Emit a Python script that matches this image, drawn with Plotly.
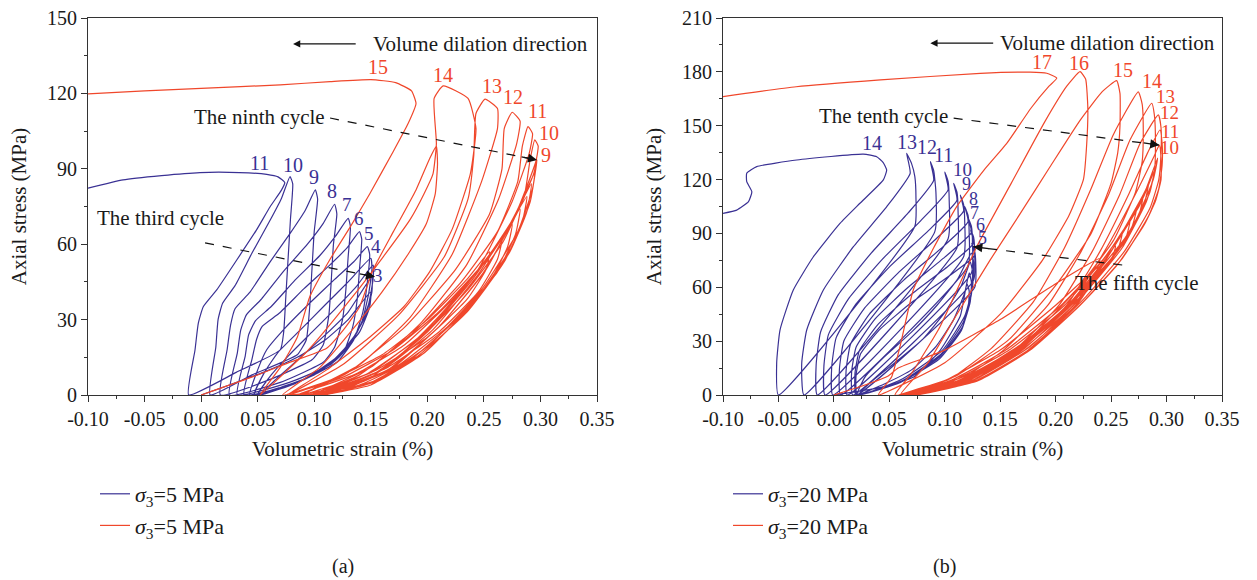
import plotly.graph_objects as go

# ---------------- data (volumetric strain %, axial stress MPa) ----------------
# Panel (a) sigma3 = 5 MPa, blue series: successive load/unload cycles 1..11
blue_a_pts = [
    (0.000, 0), (0.025, 4), (0.055, 9), (0.085, 15), (0.110, 22), (0.130, 30), (0.150, 41),
    (0.149, 35), (0.140, 25), (0.120, 15), (0.090, 6), (0.052, 0),
    (0.068, 7), (0.088, 15), (0.110, 24), (0.130, 33), (0.151, 47),
    (0.151, 41), (0.145, 31), (0.132, 21), (0.110, 11), (0.080, 4), (0.050, 0),
    (0.062, 8), (0.078, 16), (0.098, 25), (0.118, 34), (0.137, 43), (0.152, 51.7),
    (0.152, 46), (0.148, 36), (0.138, 25), (0.118, 14), (0.090, 6), (0.047, 0),
    (0.056, 9), (0.068, 17), (0.088, 26), (0.110, 36), (0.130, 45), (0.150, 54.4),
    (0.151, 50), (0.148, 40), (0.142, 29), (0.128, 18), (0.100, 8), (0.070, 3), (0.043, 0),
    (0.050, 10), (0.058, 18), (0.075, 27), (0.097, 37), (0.118, 46), (0.135, 53), (0.147, 59),
    (0.149, 56), (0.147, 45), (0.143, 33), (0.135, 22), (0.120, 13), (0.085, 5), (0.038, 0),
    (0.045, 14.3), (0.049, 22.1), (0.054, 27.3), (0.069, 32.5), (0.091, 42.3), (0.113, 51.4), (0.129, 58.5), (0.140, 65),
    (0.142, 62), (0.140, 50), (0.138, 38), (0.134, 27), (0.126, 17), (0.114, 12), (0.078, 5), (0.032, 0),
    (0.039, 15.5), (0.042, 23.9), (0.048, 29.5), (0.062, 35.2), (0.083, 45.7), (0.105, 55.5), (0.119, 63.3), (0.130, 70.3),
    (0.132, 67), (0.130, 55), (0.128, 42), (0.125, 30), (0.118, 19), (0.108, 13), (0.070, 5), (0.025, 0),
    (0.032, 16.7), (0.035, 25.8), (0.040, 31.9), (0.053, 38), (0.073, 49.3), (0.094, 60), (0.108, 68.3), (0.118, 75.9),
    (0.120, 72), (0.117, 60), (0.115, 45), (0.113, 32), (0.108, 20), (0.098, 14), (0.060, 6), (0.017, 0),
    (0.023, 18), (0.026, 27.7), (0.030, 34.3), (0.043, 40.8), (0.061, 53), (0.079, 64.5), (0.092, 73.4), (0.101, 81.6),
    (0.103, 78), (0.100, 65), (0.098, 50), (0.096, 35), (0.093, 22), (0.085, 16), (0.045, 8), (0.008, 0),
    (0.013, 19), (0.015, 30), (0.019, 36.5), (0.030, 43.5), (0.045, 56.5), (0.060, 68.7), (0.071, 78.2), (0.0786, 86.9),
    (0.081, 84), (0.079, 70), (0.077, 55), (0.075, 40), (0.073, 25), (0.070, 18), (0.031, 9), (-0.011, 0),
    (-0.0054, 17.9), (-0.0025, 28.5), (0.0019, 35.1), (0.0138, 41.8), (0.0315, 53.7), (0.049, 65.7), (0.061, 74.9),
    (0.071, 81.5), (0.074, 84.5), (0.068, 86.8), (0.058, 87.8), (0.034, 88.5), (-0.001, 88.5), (-0.035, 87.3),
    (-0.069, 85.6), (-0.100, 82.3),
]

# Panel (a) sigma3 = 5 MPa, red series: cycles 1..15
red_a_pts = [
    (0.000, 0), (0.046, 7.3), (0.076, 12.6), (0.111, 18.6), (0.126, 26), (0.140, 35), (0.152, 49.8),
    (0.170, 65), (0.190, 81.6), (0.202, 94), (0.208, 99),
    (0.209, 92), (0.207, 80), (0.199, 68), (0.183, 56), (0.160, 41), (0.132, 25), (0.105, 11), (0.072, 0),
    (0.115, 6), (0.160, 16), (0.200, 30), (0.235, 46), (0.255, 57),
    (0.252, 50), (0.235, 38), (0.200, 23), (0.155, 10), (0.110, 2), (0.078, 0),
    (0.125, 7), (0.170, 18), (0.210, 33), (0.245, 50), (0.266, 62),
    (0.262, 54), (0.245, 41), (0.210, 25), (0.165, 11), (0.120, 3), (0.084, 0),
    (0.135, 8), (0.180, 20), (0.220, 37), (0.255, 55), (0.275, 68),
    (0.271, 59), (0.255, 45), (0.220, 28), (0.175, 12), (0.130, 3), (0.090, 0),
    (0.145, 8), (0.190, 22), (0.228, 40), (0.262, 60), (0.282, 74),
    (0.278, 64), (0.262, 49), (0.228, 31), (0.185, 14), (0.140, 4), (0.096, 0),
    (0.150, 9), (0.195, 24), (0.235, 44), (0.268, 64), (0.288, 79),
    (0.284, 69), (0.268, 53), (0.235, 33), (0.190, 15), (0.145, 4), (0.101, 0),
    (0.155, 9), (0.200, 25), (0.240, 46), (0.273, 68), (0.292, 84),
    (0.288, 73), (0.273, 57), (0.240, 36), (0.195, 16), (0.150, 4), (0.105, 0),
    (0.160, 10), (0.205, 26), (0.245, 48), (0.277, 71), (0.295, 88.5),
    (0.291, 77), (0.276, 60), (0.243, 38), (0.198, 17), (0.152, 5), (0.108, 0),
    (0.165, 10), (0.210, 27), (0.250, 49), (0.280, 73), (0.294, 88), (0.297, 93.5),
    (0.293, 82), (0.280, 65), (0.248, 42), (0.202, 20), (0.155, 6), (0.110, 0),
    (0.167, 10), (0.212, 28), (0.252, 50), (0.281, 75), (0.296, 93), (0.298, 99), (0.295, 101.5),
    (0.291, 94), (0.286, 80), (0.267, 61), (0.236, 42), (0.195, 23), (0.150, 7), (0.106, 0),
    (0.160, 10), (0.205, 28), (0.245, 50), (0.275, 77), (0.290, 96), (0.293, 104), (0.289, 106.8),
    (0.284, 99), (0.280, 85), (0.262, 65), (0.230, 45), (0.188, 25), (0.140, 8), (0.098, 0),
    (0.150, 11), (0.195, 29), (0.235, 52), (0.263, 78), (0.279, 100), (0.282, 109), (0.275, 112.5),
    (0.268, 106), (0.266, 90), (0.255, 72), (0.225, 50), (0.180, 27), (0.130, 9), (0.088, 0),
    (0.140, 12), (0.185, 31), (0.222, 56), (0.248, 85), (0.262, 106), (0.262, 114), (0.251, 117.7),
    (0.243, 112), (0.241, 95), (0.236, 78), (0.215, 55), (0.175, 32), (0.125, 12), (0.076, 0),
    (0.111, 10), (0.149, 23), (0.179, 35), (0.202, 49), (0.222, 66), (0.238, 88), (0.243, 106), (0.236, 118), (0.214, 123),
    (0.206, 118), (0.208, 100), (0.205, 88), (0.197, 80), (0.185, 70), (0.161, 55), (0.132, 38), (0.095, 18), (0.052, 0),
    (0.070, 11), (0.085, 23), (0.096, 39), (0.114, 54), (0.132, 67), (0.149, 80), (0.170, 97), (0.183, 108),
    (0.190, 116), (0.186, 121), (0.172, 124.3), (0.150, 125.5), (0.114, 124.7), (0.070, 123.4),
    (0.000, 122.0), (-0.050, 121.0), (-0.100, 119.8),
]

# Panel (b) sigma3 = 20 MPa, blue series: cycles 1..14
blue_b_pts = [
    (0.000, 0), (0.040, 4), (0.072, 10), (0.096, 25), (0.114, 44), (0.120, 62),
    (0.122, 58), (0.121, 48), (0.115, 36), (0.095, 20), (0.060, 7), (0.022, 0),
    (0.045, 6), (0.070, 14), (0.092, 27), (0.108, 42), (0.118, 57), (0.122, 68),
    (0.124, 63), (0.123, 52), (0.116, 38), (0.095, 21), (0.060, 7), (0.022, 0),
    (0.035, 8), (0.055, 18), (0.080, 31), (0.100, 46), (0.115, 61), (0.123, 74),
    (0.125, 69), (0.124, 56), (0.117, 41), (0.097, 23), (0.062, 8), (0.021, 0),
    (0.028, 10), (0.045, 21), (0.070, 35), (0.093, 50), (0.112, 65), (0.124, 79),
    (0.126, 74), (0.125, 60), (0.118, 44), (0.098, 25), (0.062, 9), (0.021, 0),
    (0.020, 11), (0.024, 22.8), (0.041, 36.3), (0.070, 51.5), (0.103, 65.9), (0.127, 77.7), (0.1243, 84.5),
    (0.127, 80), (0.128, 72), (0.127, 60), (0.020, 0),
    (0.019, 11.9), (0.023, 24.8), (0.040, 39.5), (0.070, 56.1), (0.103, 71.7), (0.126, 84.5), (0.1233, 91.9),
    (0.126, 88), (0.127, 78), (0.126, 64), (0.017, 0),
    (0.016, 12.8), (0.020, 26.6), (0.037, 42.3), (0.067, 60), (0.100, 76.8), (0.124, 90.5), (0.1212, 98.4),
    (0.124, 94), (0.125, 84), (0.124, 68), (0.012, 0),
    (0.011, 13.6), (0.015, 28.3), (0.032, 45.1), (0.063, 64), (0.097, 81.8), (0.121, 96.5), (0.118, 104.9),
    (0.121, 100), (0.122, 90), (0.121, 72), (0.006, 0),
    (0.005, 14.5), (0.009, 30.1), (0.027, 47.9), (0.058, 68), (0.092, 86.9), (0.117, 102.5), (0.114, 111.4),
    (0.117, 106), (0.118, 96), (0.117, 77), (-0.001, 0),
    (-0.002, 15.3), (0.002, 31.8), (0.020, 50.7), (0.051, 71.9), (0.086, 92), (0.111, 108.5), (0.108, 117.9),
    (0.111, 113), (0.112, 102), (0.111, 82), (-0.008, 0),
    (-0.009, 16.1), (-0.005, 33.5), (0.013, 53.4), (0.044, 75.8), (0.078, 96.9), (0.103, 114.3), (0.100, 124.2),
    (0.103, 119), (0.104, 108), (0.103, 87), (-0.015, 0),
    (-0.016, 16.9), (-0.012, 35.1), (0.004, 55.9), (0.034, 79.3), (0.067, 101.4), (0.090, 119.6), (0.087, 130),
    (0.090, 125), (0.092, 113), (0.091, 91), (-0.027, 0),
    (-0.029, 17.7), (-0.0245, 36.2), (-0.0095, 58.5), (0.0176, 82.6), (0.0477, 104.9), (0.0688, 123.5), (0.0656, 134.6),
    (0.070, 129), (0.073, 121.6), (0.074, 110), (0.073, 94), (-0.050, 0),
    (-0.0516, 17.7), (-0.0486, 36.2), (-0.0366, 58.5), (-0.0185, 77), (0.0055, 95.6), (0.0235, 106.8),
    (0.0446, 119.8), (0.0476, 125.3), (0.0445, 129.5), (0.0386, 132.7), (0.0265, 134.2), (-0.0335, 130.9),
    (-0.0696, 127.2), (-0.0786, 123.5), (-0.0786, 118.8), (-0.074, 113.2), (-0.077, 107.7), (-0.0876, 103),
    (-0.100, 101.2),
]

# Panel (b) sigma3 = 20 MPa, red series: cycles 1..17
red_b_pts = [
    (0.000, 0), (0.030, 6), (0.049, 10.6), (0.058, 15), (0.100, 25), (0.150, 42), (0.200, 62), (0.240, 76),
    (0.236, 68), (0.215, 52), (0.180, 33), (0.135, 15), (0.090, 4), (0.058, 0),
    (0.100, 8), (0.150, 25), (0.200, 50), (0.235, 70), (0.254, 83),
    (0.250, 75), (0.228, 58), (0.190, 37), (0.145, 18), (0.100, 5), (0.060, 0),
    (0.105, 8), (0.155, 25), (0.205, 50), (0.240, 73), (0.260, 90),
    (0.256, 81), (0.232, 62), (0.193, 39), (0.147, 19), (0.102, 5), (0.062, 0),
    (0.108, 8), (0.158, 25), (0.208, 50), (0.246, 78), (0.267, 97),
    (0.263, 87), (0.238, 66), (0.197, 41), (0.150, 20), (0.104, 5), (0.064, 0),
    (0.112, 8), (0.162, 25), (0.211, 50), (0.250, 80), (0.273, 104),
    (0.269, 94), (0.243, 70), (0.200, 43), (0.152, 20), (0.106, 5), (0.066, 0),
    (0.116, 8), (0.166, 25), (0.214, 50), (0.250, 80), (0.272, 102), (0.279, 111),
    (0.275, 100), (0.250, 75), (0.205, 46), (0.156, 21), (0.108, 5), (0.068, 0),
    (0.120, 8), (0.169, 25), (0.216, 50), (0.250, 80), (0.276, 106), (0.284, 118),
    (0.280, 107), (0.256, 80), (0.210, 49), (0.160, 22), (0.110, 5), (0.070, 0),
    (0.124, 8), (0.172, 25), (0.218, 50), (0.251, 81), (0.279, 110), (0.289, 125),
    (0.285, 113), (0.262, 85), (0.215, 52), (0.163, 23), (0.112, 5), (0.072, 0),
    (0.128, 8), (0.175, 25), (0.220, 51), (0.251, 81), (0.281, 114), (0.292, 132),
    (0.288, 120), (0.268, 92), (0.220, 56), (0.167, 25), (0.115, 6), (0.074, 0),
    (0.125, 8), (0.170, 25), (0.213, 50), (0.244, 80), (0.272, 112), (0.288, 132), (0.2935, 139.2),
    (0.295, 132), (0.295, 120), (0.290, 108), (0.280, 95), (0.255, 72), (0.222, 50), (0.177, 25), (0.130, 8), (0.076, 0),
    (0.124, 8), (0.168, 25), (0.210, 50), (0.240, 80), (0.266, 112), (0.283, 135), (0.2941, 147.6),
    (0.296, 140), (0.296, 128), (0.293, 115), (0.284, 100), (0.260, 76), (0.225, 52), (0.179, 26), (0.130, 8), (0.074, 0),
    (0.120, 8), (0.163, 25), (0.203, 50), (0.233, 80), (0.258, 112), (0.276, 140), (0.2926, 156),
    (0.295, 149), (0.295, 135), (0.293, 120), (0.285, 104), (0.262, 80), (0.226, 54), (0.180, 27), (0.128, 8), (0.070, 0),
    (0.113, 8), (0.153, 25), (0.193, 50), (0.223, 80), (0.248, 112), (0.267, 142), (0.2866, 162.5),
    (0.289, 156), (0.290, 140), (0.289, 124), (0.282, 108), (0.260, 82), (0.224, 55), (0.177, 27), (0.125, 8), (0.065, 0),
    (0.105, 9), (0.142, 26), (0.180, 52), (0.208, 82), (0.232, 115), (0.252, 145), (0.2745, 168.9),
    (0.278, 162), (0.279, 146), (0.278, 130), (0.272, 113), (0.252, 86), (0.218, 58), (0.172, 29), (0.120, 9), (0.060, 0),
    (0.085, 18), (0.110, 44), (0.1407, 75), (0.168, 101), (0.1948, 127), (0.222, 153), (0.242, 169), (0.255, 175.1),
    (0.258, 168), (0.258, 150), (0.256, 135), (0.250, 118), (0.232, 90), (0.200, 61), (0.158, 31), (0.108, 10), (0.055, 0),
    (0.070, 12), (0.0957, 38), (0.1288, 82.6), (0.160, 118), (0.190, 152), (0.210, 172), (0.222, 180.1),
    (0.227, 176), (0.229, 160), (0.228, 140), (0.225, 120), (0.212, 100), (0.188, 75), (0.150, 45), (0.100, 18), (0.040, 0),
    (0.052, 10), (0.0596, 26.9), (0.0716, 58.5), (0.090, 82), (0.1107, 104.9), (0.135, 125), (0.1557, 140),
    (0.178, 160), (0.194, 172), (0.201, 176.5), (0.192, 179.2), (0.177, 179.8), (0.132, 179.2), (0.042, 175.5),
    (-0.034, 171.7), (-0.100, 166.2),
]

# cycle number labels: (text, strain, stress, font size)
blue_a_labels = [("11", 0.052, 92.5, 20), ("10", 0.081, 91.6, 20), ("9", 0.100, 86.8, 20), ("8", 0.116, 81.3, 20),
                 ("7", 0.129, 75.7, 19), ("6", 0.140, 70.4, 19), ("5", 0.148, 64.4, 19), ("4", 0.155, 58.9, 19),
                 ("3", 0.156, 47.4, 19)]
red_a_labels = [("15", 0.156, 130.4, 20), ("14", 0.214, 127.4, 20), ("13", 0.257, 122.9, 20), ("12", 0.276, 118.7, 20),
                ("11", 0.297, 112.8, 20), ("10", 0.308, 104.1, 20), ("9", 0.305, 95.5, 20)]
blue_b_labels = [("14", 0.034, 140.2, 20), ("13", 0.066, 141.2, 20), ("12", 0.084, 138.0, 20), ("11", 0.099, 133.7, 20),
                 ("10", 0.116, 125.7, 19), ("9", 0.120, 117.8, 18), ("8", 0.126, 109.4, 18), ("7", 0.127, 101.2, 18),
                 ("6", 0.132, 94.8, 18), ("5", 0.134, 87.2, 18)]
red_b_labels = [("17", 0.188, 185.7, 20), ("16", 0.221, 185.1, 20), ("15", 0.261, 181.0, 20), ("14", 0.287, 175.0, 20),
                ("13", 0.299, 166.1, 19), ("12", 0.303, 157.2, 19), ("11", 0.303, 147.0, 19), ("10", 0.303, 137.7, 19)]

x_ticks = [-0.10, -0.05, 0.00, 0.05, 0.10, 0.15, 0.20, 0.25, 0.30, 0.35]
x_ticktext = ["-0.10", "-0.05", "0.00", "0.05", "0.10", "0.15", "0.20", "0.25", "0.30", "0.35"]
y_ticks_a = [0, 30, 60, 90, 120, 150]
y_ticks_b = [0, 30, 60, 90, 120, 150, 180, 210]

BLUE = "#3a3194"
RED = "#f0472b"
FONT = "Liberation Serif"
AX = "#333333"
TXT = "#1a1a1a"

fig = go.Figure()

def add_series(pts, color, name, xa, ya, legend):
    fig.add_trace(go.Scatter(
        x=[p[0] for p in pts], y=[p[1] for p in pts], mode="lines",
        line=dict(color=color, width=1.2, shape="spline", smoothing=0.45),
        name=name, xaxis=xa, yaxis=ya, legend=legend, hoverinfo="skip"))

add_series(blue_a_pts, BLUE, "<i>σ</i><sub>3</sub>=5 MPa", "x", "y", "legend")
add_series(red_a_pts, RED, "<i>σ</i><sub>3</sub>=5 MPa", "x", "y", "legend")
add_series(blue_b_pts, BLUE, "<i>σ</i><sub>3</sub>=20 MPa", "x2", "y2", "legend2")
add_series(red_b_pts, RED, "<i>σ</i><sub>3</sub>=20 MPa", "x2", "y2", "legend2")

tickfont = dict(family=FONT, size=20, color=TXT)
def xaxis(domain, anchor):
    return dict(domain=domain, anchor=anchor, range=[-0.10, 0.35], tickvals=x_ticks, ticktext=x_ticktext,
                ticks="outside", ticklen=6, tickcolor=AX, showline=True, linecolor=AX, linewidth=1.2,
                mirror=True, showgrid=False, zeroline=False, tickfont=tickfont, automargin=False,
                minor=dict(dtick=0.025, tick0=0, ticks="outside", ticklen=3, tickcolor=AX),
                title=dict(text="Volumetric strain (%)", font=dict(family=FONT, size=21, color=TXT), standoff=12))
def yaxis(domain, anchor, rng, vals):
    return dict(domain=domain, anchor=anchor, range=rng, tickvals=vals,
                ticks="outside", ticklen=6, tickcolor=AX, showline=True, linecolor=AX, linewidth=1.2,
                mirror=True, showgrid=False, zeroline=False, tickfont=tickfont, automargin=False,
                minor=dict(dtick=15, tick0=0, ticks="outside", ticklen=3, tickcolor=AX),
                title=dict(text="Axial stress (MPa)", font=dict(family=FONT, size=21, color=TXT), standoff=14))

ydom = [1 - 395 / 580, 1 - 18 / 580]
legfont = dict(family=FONT, size=22, color=TXT)
fig.update_layout(
    width=1257, height=580, margin=dict(l=0, r=0, t=0, b=0),
    paper_bgcolor="white", plot_bgcolor="white",
    xaxis=xaxis([88 / 1257, 597 / 1257], "y"),
    yaxis=yaxis(ydom, "x", [0, 150], y_ticks_a),
    xaxis2=xaxis([723 / 1257, 1222 / 1257], "y2"),
    yaxis2=yaxis(ydom, "x2", [0, 210], y_ticks_b),
    legend=dict(x=95 / 1257, y=1 - 473 / 580, xanchor="left", yanchor="top", font=legfont,
                tracegroupgap=0, itemwidth=30, bgcolor="rgba(0,0,0,0)"),
    legend2=dict(x=728 / 1257, y=1 - 473 / 580, xanchor="left", yanchor="top", font=legfont,
                 tracegroupgap=0, itemwidth=30, bgcolor="rgba(0,0,0,0)"),
    showlegend=True,
)

ann = []
def label(txt, x, y, xr, yr, color, size=20):
    ann.append(dict(text=txt, x=x, y=y, xref=xr, yref=yr, showarrow=False,
                    font=dict(family=FONT, size=size, color=color), xanchor="center", yanchor="middle"))

for t, x, y, s in blue_a_labels:
    label(t, x, y, "x", "y", BLUE, s)
for t, x, y, s in red_a_labels:
    label(t, x, y, "x", "y", RED, s)
for t, x, y, s in blue_b_labels:
    label(t, x, y, "x2", "y2", BLUE, s)
for t, x, y, s in red_b_labels:
    label(t, x, y, "x2", "y2", RED, s)

# texts
label("Volume dilation direction", 0.247, 139.7, "x", "y", TXT, 21)
label("The ninth cycle", 0.052, 110.6, "x", "y", TXT, 21)
label("The third cycle", -0.036, 70.4, "x", "y", TXT, 21)
label("Volume dilation direction", 0.247, 196.0, "x2", "y2", TXT, 21)
label("The tenth cycle", 0.045, 155.3, "x2", "y2", TXT, 21)
label("The fifth cycle", 0.273, 62.4, "x2", "y2", TXT, 21)
label("(a)", 343 / 1257, 1 - 566 / 580, "paper", "paper", TXT, 20)
label("(b)", 944 / 1257, 1 - 566 / 580, "paper", "paper", TXT, 20)

# solid arrows (dilation direction)
def arrow(xt, yt, xf, yf, xr, yr):
    ann.append(dict(text="", x=xt, y=yt, ax=xf, ay=yf, xref=xr, yref=yr, axref=xr, ayref=yr,
                    showarrow=True, arrowhead=2, arrowsize=1.2, arrowwidth=1.2, arrowcolor="#111"))

arrow(0.0813, 139.7, 0.138, 139.7, "x", "y")
arrow(0.087, 196.0, 0.145, 196.0, "x2", "y2")

# dashed guide arrows: dashed line (shape) + arrowhead
shapes = []
def dashed(x0, y0, x1, y1, xr, yr, hx, hy):
    shapes.append(dict(type="line", x0=x0, y0=y0, x1=x1, y1=y1, xref=xr, yref=yr,
                       line=dict(color="#111", width=1.2, dash="dash")))
    ann.append(dict(text="", x=x1, y=y1, ax=hx, ay=hy, xref=xr, yref=yr, axref=xr, ayref=yr,
                    showarrow=True, arrowhead=2, arrowsize=1.4, arrowwidth=1.3, arrowcolor="#111"))

dashed(0.114, 110.2, 0.297, 93.5, "x", "y", 0.282, 94.9)
dashed(0.0035, 60.5, 0.1538, 47.0, "x", "y", 0.139, 48.3)
dashed(0.108, 154.2, 0.2935, 139.2, "x2", "y2", 0.278, 140.5)
dashed(0.260, 72.4, 0.1257, 82.6, "x2", "y2", 0.141, 81.4)

fig.update_layout(annotations=ann, shapes=shapes)
fig.write_html("out.html")
